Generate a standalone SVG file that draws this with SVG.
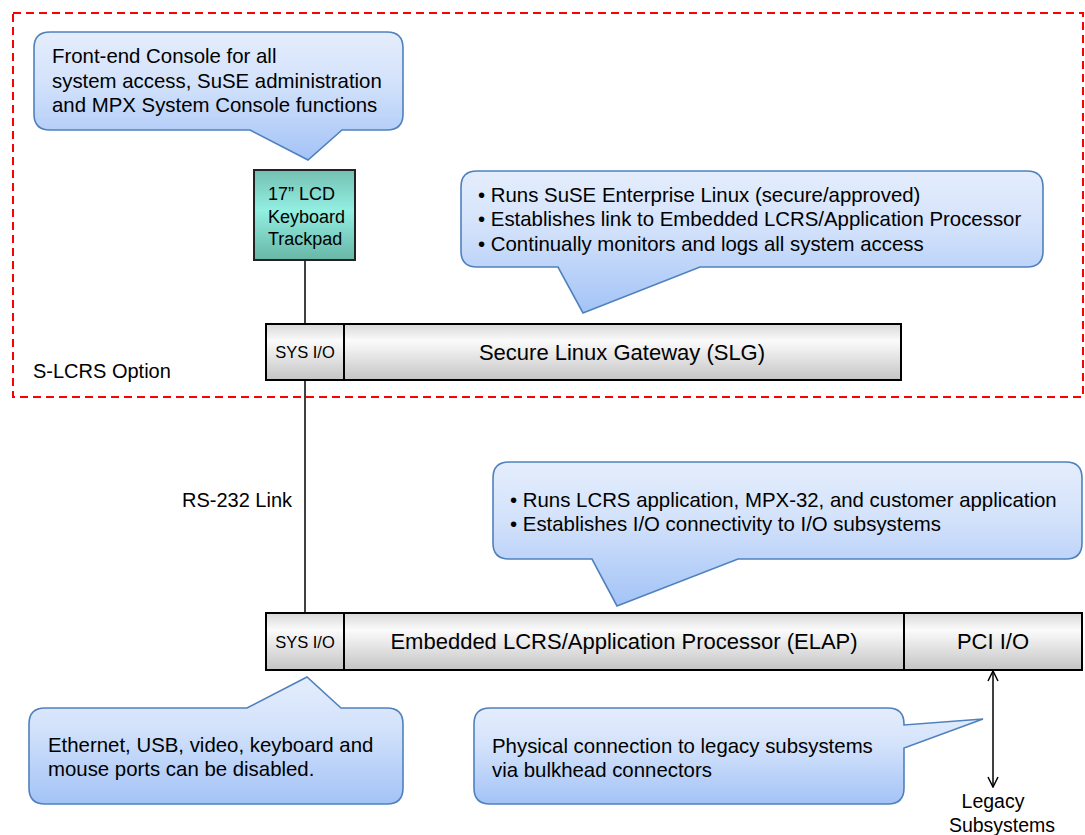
<svg xmlns="http://www.w3.org/2000/svg" width="1085" height="835" viewBox="0 0 1085 835">
<defs>
<linearGradient id="callG" x1="0" y1="0" x2="0" y2="1">
<stop offset="0" stop-color="#e4edfc"/>
<stop offset="0.4" stop-color="#d3e2fb"/>
<stop offset="1" stop-color="#a3c3f6"/>
</linearGradient>
<linearGradient id="barG" x1="0" y1="0" x2="0" y2="1">
<stop offset="0" stop-color="#d8d8d8"/>
<stop offset="0.3" stop-color="#fbfbfb"/>
<stop offset="1" stop-color="#c4c4c4"/>
</linearGradient>
<linearGradient id="lcdG" x1="0" y1="0" x2="0" y2="1">
<stop offset="0" stop-color="#74c0b2"/>
<stop offset="0.45" stop-color="#92efe2"/>
<stop offset="1" stop-color="#68b6a6"/>
</linearGradient>
<marker id="arr" viewBox="0 0 12 12" refX="11" refY="6" markerWidth="12" markerHeight="12" markerUnits="userSpaceOnUse" orient="auto-start-reverse">
<path d="M1 1 L11 6 L1 11" fill="none" stroke="#000" stroke-width="1.5"/>
</marker>
</defs>
<style>
text{font-family:"Liberation Sans",Arial,sans-serif;fill:#000}
.call{fill:url(#callG);stroke:#4f81bd;stroke-width:1.6}
.bar{fill:url(#barG);stroke:#000;stroke-width:2}
.t20{font-size:20px}
.tc{font-size:20.4px}
.t22{font-size:22px}
.t16{font-size:16.5px}
.t18{font-size:18px}
.tl{font-size:19.5px}
.mid{text-anchor:middle}
.conn{stroke:#000;stroke-width:1.5;fill:none}
</style>

<g id="slcrs-option">
<rect x="13" y="13" width="1070" height="384" fill="none" stroke="#ff0000" stroke-width="2" stroke-dasharray="8,5"/>
<text class="t20" x="33" y="378">S-LCRS Option</text>
</g>

<g id="connectors">
<line class="conn" x1="305" y1="260" x2="305" y2="324"/>
<line class="conn" x1="305" y1="380" x2="305" y2="613"/>
<line class="conn" x1="993" y1="671" x2="993" y2="787" marker-start="url(#arr)" marker-end="url(#arr)"/>
<text class="t20" x="182" y="507">RS-232 Link</text>
<text class="tl mid" x="993" y="808">Legacy</text>
<text class="tl mid" x="1002" y="832">Subsystems</text>
</g>

<g id="callout-console">
<path class="call" d="M50 32 H387 Q403 32 403 48 V114 Q403 130 387 130 H342 L308 160 L250 130 H50 Q34 130 34 114 V48 Q34 32 50 32 Z"/>
<text class="tc" x="52" y="63">Front-end Console for all</text>
<text class="tc" x="52" y="88">system access, SuSE administration</text>
<text class="tc" x="52" y="112">and MPX System Console functions</text>
</g>

<g id="lcd">
<rect x="254" y="170" width="101" height="90" fill="url(#lcdG)" stroke="#222" stroke-width="2"/>
<text class="t18" x="268" y="200">17” LCD</text>
<text class="t18" x="268" y="223">Keyboard</text>
<text class="t18" x="268" y="245">Trackpad</text>
</g>

<g id="callout-slg">
<path class="call" d="M477 171 H1027 Q1043 171 1043 187 V251 Q1043 267 1027 267 H700 L583 313 L558 267 H477 Q461 267 461 251 V187 Q461 171 477 171 Z"/>
<text class="tc" x="478" y="202">• Runs SuSE Enterprise Linux (secure/approved)</text>
<text class="tc" x="478" y="226">• Establishes link to Embedded LCRS/Application Processor</text>
<text class="tc" x="478" y="251">• Continually monitors and logs all system access</text>
</g>

<g id="slg">
<rect class="bar" x="266" y="324" width="635" height="56"/>
<line x1="344" y1="324" x2="344" y2="380" stroke="#000" stroke-width="2"/>
<text class="t16 mid" x="305" y="358">SYS I/O</text>
<text class="t22 mid" x="622" y="360">Secure Linux Gateway (SLG)</text>
</g>

<g id="callout-elap">
<path class="call" d="M509 462 H1066 Q1082 462 1082 478 V543 Q1082 559 1066 559 H738 L617 606 L592 559 H509 Q493 559 493 543 V478 Q493 462 509 462 Z"/>
<text class="tc" x="510" y="507">• Runs LCRS application, MPX-32, and customer application</text>
<text class="tc" x="510" y="531">• Establishes I/O connectivity to I/O subsystems</text>
</g>

<g id="elap">
<rect class="bar" x="266" y="613" width="816" height="57"/>
<line x1="344" y1="613" x2="344" y2="670" stroke="#000" stroke-width="2"/>
<line x1="904" y1="613" x2="904" y2="670" stroke="#000" stroke-width="2"/>
<text class="t16 mid" x="305" y="648">SYS I/O</text>
<text class="t22 mid" x="624" y="649">Embedded LCRS/Application Processor (ELAP)</text>
<text class="t22 mid" x="993" y="649">PCI I/O</text>
</g>

<g id="callout-ports">
<path class="call" d="M45 708 H247 L307 677 L341 708 H387 Q403 708 403 724 V788 Q403 804 387 804 H45 Q29 804 29 788 V724 Q29 708 45 708 Z"/>
<text class="tc" x="48" y="752">Ethernet, USB, video, keyboard and</text>
<text class="tc" x="48" y="776">mouse ports can be disabled.</text>
</g>

<g id="callout-legacy">
<path class="call" d="M490 708 H888 Q904 708 904 724 V725 L983 719 L904 748 V788 Q904 804 888 804 H490 Q474 804 474 788 V724 Q474 708 490 708 Z"/>
<text class="tc" x="492" y="753">Physical connection to legacy subsystems</text>
<text class="tc" x="492" y="777">via bulkhead connectors</text>
</g>
</svg>
